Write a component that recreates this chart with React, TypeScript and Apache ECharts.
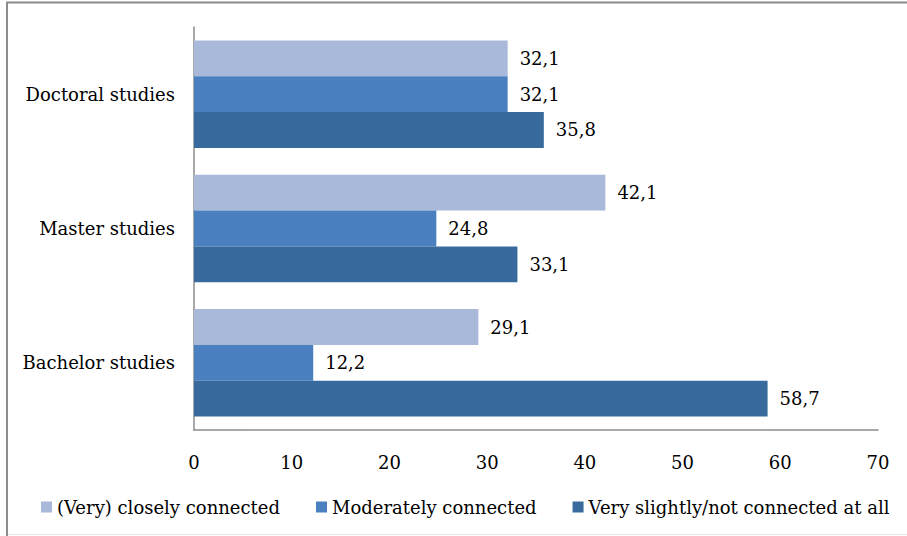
import React, { useEffect, useRef } from "react";
import * as echarts from "echarts";

const categories = ["Bachelor studies", "Master studies", "Doctoral studies"];
const seriesNames = [
  "(Very) closely connected",
  "Moderately connected",
  "Very slightly/not connected at all",
];
const closelyConnected = [29.1, 42.1, 32.1];
const moderatelyConnected = [12.2, 24.8, 32.1];
const notConnected = [58.7, 33.1, 35.8];
const xTicks = [0, 10, 20, 30, 40, 50, 60, 70];

const colors = ["#A9B9D9", "#4B80C0", "#386A9E"];
const FONT = "'DejaVu Serif', 'Liberation Serif', serif";
const FS = 18;

export default function App() {
  const ref = useRef<HTMLDivElement>(null);

  useEffect(() => {
    if (!ref.current) return;
    const chart = echarts.init(ref.current, undefined, { renderer: "svg" });
    const values = [closelyConnected, moderatelyConnected, notConnected];
    chart.setOption({
      animation: false,
      textStyle: { fontFamily: FONT },
      grid: { left: 194, right: 29, top: 27, bottom: 106, containLabel: false },
      legend: {
        bottom: 15,
        left: 36,
        itemWidth: 11,
        itemHeight: 11,
        itemGap: 36,
        icon: "rect",
        textStyle: { fontFamily: FONT, fontSize: FS, color: "#000" },
        data: seriesNames,
      },
      xAxis: {
        type: "value",
        min: xTicks[0],
        max: xTicks[xTicks.length - 1],
        interval: 10,
        axisLine: { show: true, lineStyle: { color: "#8C8C8C", width: 1.5 } },
        axisTick: { show: false },
        splitLine: { show: false },
        axisLabel: { fontFamily: FONT, fontSize: FS, color: "#000", margin: 23 },
      },
      yAxis: {
        type: "category",
        data: categories,
        axisLine: { show: true, lineStyle: { color: "#8C8C8C", width: 1.5 } },
        axisTick: { show: false },
        axisLabel: { fontFamily: FONT, fontSize: FS, color: "#000", margin: 19 },
      },
      series: seriesNames.map((name, i) => ({
        name,
        type: "bar",
        data: values[i],
        barGap: "0%",
        barCategoryGap: "20%",
        itemStyle: { color: colors[i] },
        label: {
          show: true,
          position: "right",
          distance: 12,
          fontFamily: FONT,
          fontSize: FS,
          color: "#000",
          formatter: (p: any) => String(p.value).replace(".", ","),
        },
      })),
      graphic: [
        {
          type: "line",
          shape: { x1: 6, y1: 2.5, x2: 907, y2: 2.5 },
          style: { stroke: "#8C8C8C", lineWidth: 2 },
        },
        {
          type: "line",
          shape: { x1: 7, y1: 2, x2: 7, y2: 536 },
          style: { stroke: "#8C8C8C", lineWidth: 2 },
        },
        {
          type: "line",
          shape: { x1: 8, y1: 534.5, x2: 907, y2: 534.5 },
          style: { stroke: "#E6E6E6", lineWidth: 1 },
        },
      ],
    });
    return () => chart.dispose();
  }, []);

  return (
    <div
      ref={ref}
      style={{ position: "fixed", left: 0, top: 0, width: 907, height: 536, background: "#fff" }}
    />
  );
}
